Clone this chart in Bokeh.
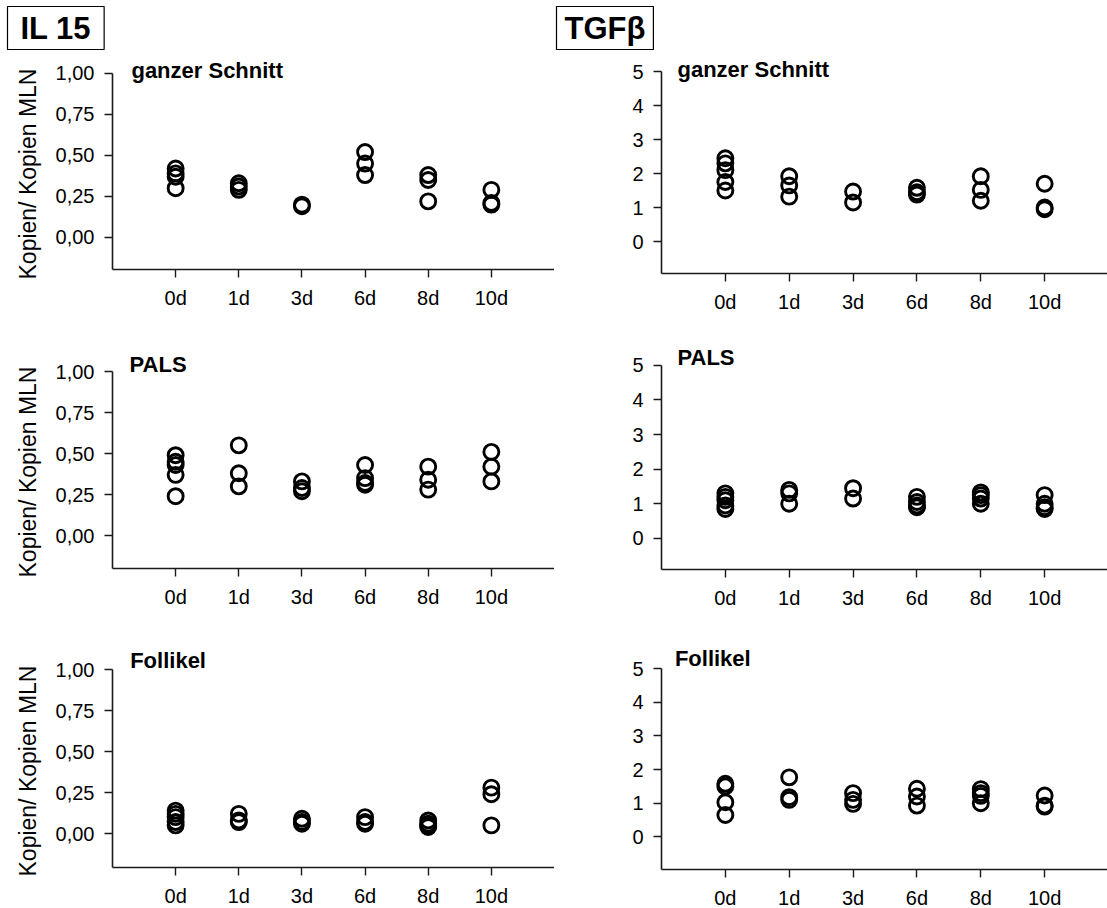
from bokeh.plotting import figure
from bokeh.models import Range1d, FixedTicker, Label, Title
from bokeh.layouts import column, row
from bokeh.embed import file_html
from bokeh.resources import INLINE

days = ["0d", "1d", "3d", "6d", "8d", "10d"]
il15_ticks = [0, 0.25, 0.5, 0.75, 1.0]
il15_tick_labels = ["0,00", "0,25", "0,50", "0,75", "1,00"]
tgf_ticks = [0, 1, 2, 3, 4, 5]
tgf_tick_labels = ["0", "1", "2", "3", "4", "5"]
y_label = "Kopien/ Kopien MLN"
panel_titles = ["ganzer Schnitt", "PALS", "Follikel"]

# IL 15 (one list per day)
il15_ganzer = [[0.42, 0.39, 0.37, 0.30], [0.33, 0.31, 0.29], [0.20, 0.19],
               [0.52, 0.45, 0.38], [0.38, 0.35, 0.22], [0.29, 0.21, 0.20]]
il15_pals = [[0.49, 0.45, 0.43, 0.37, 0.24], [0.55, 0.38, 0.30], [0.33, 0.29, 0.27],
             [0.43, 0.35, 0.32, 0.31], [0.42, 0.34, 0.28], [0.51, 0.42, 0.33]]
il15_follikel = [[0.14, 0.12, 0.10, 0.07, 0.05], [0.12, 0.08, 0.07], [0.09, 0.07, 0.06],
                 [0.10, 0.07, 0.06], [0.08, 0.06, 0.05, 0.04], [0.28, 0.24, 0.05]]

# TGF beta
tgf_ganzer = [[2.45, 2.3, 2.1, 1.75, 1.5], [1.92, 1.65, 1.32], [1.47, 1.15],
              [1.58, 1.45, 1.38], [1.92, 1.52, 1.2], [1.7, 1.0, 0.95]]
tgf_pals = [[1.3, 1.2, 1.1, 0.95, 0.85], [1.4, 1.3, 1.0], [1.45, 1.15],
            [1.2, 1.05, 0.95, 0.9], [1.33, 1.25, 1.15, 1.0], [1.25, 1.0, 0.9, 0.85]]
tgf_follikel = [[1.58, 1.5, 1.03, 0.65], [1.77, 1.18, 1.1], [1.3, 1.1, 0.98],
                [1.43, 1.2, 0.93], [1.42, 1.3, 1.22, 1.0], [1.23, 0.93, 0.9]]

FONT = "Liberation Sans"
AXC = "#1a1a1a"


def panel(data, kind, title, title_xy, fw, fh, yr, bl, bt, bb, box=None, ylab_off=-10):
    if kind == "il15":
        ticks, labels, bounds = il15_ticks, il15_tick_labels, (yr[0], 1.0)
    else:
        ticks, labels, bounds = tgf_ticks, tgf_tick_labels, (yr[0], 5.0)
    p = figure(frame_width=fw, frame_height=fh, x_range=Range1d(0, 7),
               y_range=Range1d(*yr),
               min_border_left=bl, min_border_right=0, min_border_top=bt,
               min_border_bottom=bb, toolbar_location=None, output_backend="svg",
               outline_line_color=None, background_fill_color="white",
               border_fill_color="white")
    p.xgrid.visible = False
    p.ygrid.visible = False
    xs, ys = [], []
    for i, vals in enumerate(data):
        for v in vals:
            xs.append(i + 1)
            ys.append(v)
    p.scatter(xs, ys, marker="circle", size=15, fill_color=None,
              line_color="black", line_width=2.9)
    for ax in (p.xaxis[0], p.yaxis[0]):
        ax.axis_line_color = AXC
        ax.axis_line_width = 1.6
        ax.major_tick_line_color = AXC
        ax.major_tick_line_width = 1.4
        ax.major_tick_out = 8
        ax.major_tick_in = 0
        ax.minor_tick_out = 0
        ax.minor_tick_in = 0
        ax.major_label_text_font = FONT
        ax.major_label_text_font_size = "20px"
        ax.major_label_text_color = "black"
    p.xaxis.ticker = FixedTicker(ticks=[1, 2, 3, 4, 5, 6])
    p.xaxis.major_label_overrides = {i + 1: d for i, d in enumerate(days)}
    p.xaxis.major_label_standoff = 9
    p.yaxis.ticker = FixedTicker(ticks=ticks)
    p.yaxis.major_label_overrides = {t: l for t, l in zip(ticks, labels)}
    p.yaxis.major_label_standoff = 10
    p.yaxis.bounds = bounds
    if kind == "il15":
        yt = Title(text=y_label, align="left", offset=ylab_off, standoff=24,
                   text_font=FONT, text_font_size="23px", text_font_style="normal",
                   text_color="black")
        p.add_layout(yt, "left")
    p.add_layout(Label(x=title_xy[0], y=title_xy[1], text=title, text_font=FONT,
                       text_font_size="22px", text_font_style="bold",
                       text_baseline="middle", text_align="left", text_color="black"))
    if box is not None:
        t = Title(text=box[0], align="left", offset=box[1], standoff=8,
                  text_font=FONT, text_font_size="31px", text_font_style="bold",
                  text_color="black", border_line_color="black",
                  border_line_width=1.2, background_fill_color="white",
                  padding=box[2])
        p.add_layout(t, "above")
    return p


a = panel(il15_ganzer, "il15", panel_titles[0], (0.30, 1.016), 442, 216,
          (-0.195, 1.12), 111, 52, 44, box=("IL 15", -105, (13, 4)), ylab_off=-10)
c = panel(il15_pals, "il15", panel_titles[1], (0.27, 1.04), 442, 255,
          (-0.201, 1.354), 111, 0, 43, ylab_off=-9)
e = panel(il15_follikel, "il15", panel_titles[2], (0.28, 1.055), 442, 256,
          (-0.207, 1.354), 111, 0, 42, ylab_off=-9)

b = panel(tgf_ganzer, "tgf", panel_titles[0], (0.25, 5.06), 447, 220,
          (-0.94, 5.53), 107, 52, 40, box=("TGFβ", -105, (8, 4)))
d = panel(tgf_pals, "tgf", panel_titles[1], (0.25, 5.22), 447, 254,
          (-0.9, 6.44), 107, 0, 44)
f = panel(tgf_follikel, "tgf", panel_titles[2], (0.21, 5.30), 447, 256,
          (-0.97, 6.64), 107, 0, 42)

lay = row(column(a, c, e, spacing=0), column(b, d, f, spacing=0), spacing=0)
open("out.html", "w").write(file_html(lay, INLINE))
